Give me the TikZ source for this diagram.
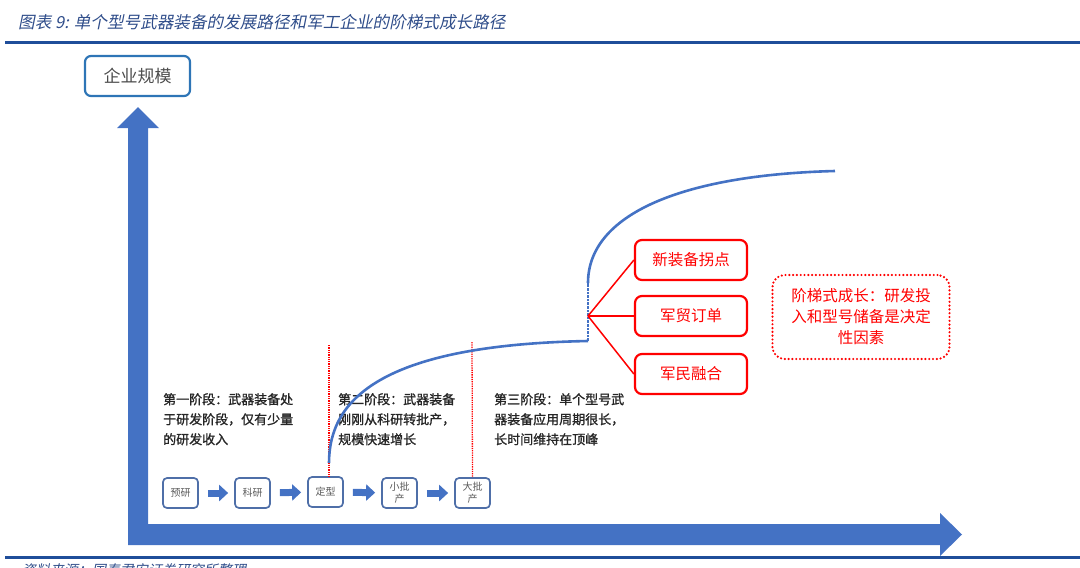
\documentclass[tikz,border=0pt]{standalone}
\usepackage{fontspec}
\setmainfont{Noto Sans CJK SC}
\newfontfamily\slantfont[FakeSlant=0.2]{Noto Sans CJK SC}
\newfontfamily\heavyfont[FakeBold=1.2]{Noto Sans CJK SC}
\usetikzlibrary{arrows.meta}

\definecolor{axisblue}{HTML}{4472C4}
\definecolor{rulenavy}{HTML}{1F4E9A}
\definecolor{titlenavy}{HTML}{2F4D8A}
\definecolor{stageframe}{HTML}{4F6FA8}
\definecolor{scaleframe}{HTML}{2E75B6}
\definecolor{keyred}{HTML}{FF0000}

\begin{document}
\begin{tikzpicture}[x=1pt, y=-1pt,
    stagebox/.style={draw=stageframe, line width=1.7pt, rounded corners=4pt,
        minimum width=35pt, minimum height=30pt, inner sep=1pt, align=center,
        text=black!65, font=\fontsize{10}{12}\selectfont},
    flowarrow/.style={draw=axisblue, line width=7pt,
        -{Triangle[length=9pt, width=16pt]}, shorten <=9pt, shorten >=6pt},
    keybox/.style={draw=keyred, line width=2.2pt, rounded corners=7pt,
        minimum width=112pt, minimum height=40pt, text=keyred,
        font=\fontsize{15.5}{18}\selectfont},
    stagetext/.style={anchor=north west, inner sep=0pt, align=left,
        text=black!85, font=\heavyfont\fontsize{13}{20}\selectfont},
    fanline/.style={draw=keyred, line width=1.5pt},
    stageline/.style={draw=keyred, line width=1.3pt, densely dotted},
    growth/.style={draw=axisblue, line width=2.6pt}]

    \useasboundingbox (0,0) rectangle (1080,568);

    % Title and rules
    \node (title) at (18,22) [anchor=west, inner sep=0pt, text=titlenavy,
        font=\slantfont\fontsize{16.6}{18}\selectfont]
        {图表 9: 单个型号武器装备的发展路径和军工企业的阶梯式成长路径};
    \draw[rulenavy, line width=3pt] (5,42.5) -- (1080,42.5);
    \draw[rulenavy, line width=3pt] (5,557.5) -- (1080,557.5);
    \node (source) at (22,563) [anchor=north west, inner sep=0pt, text=titlenavy,
        font=\slantfont\fontsize{14}{16}\selectfont] {资料来源：国泰君安证券研究所整理};

    % Draw the axes
    \fill[axisblue] (128,545) -- (128,128) -- (117,128) -- (138,107) -- (159,128)
        -- (148,128) -- (148,524) -- (940,524) -- (940,513) -- (962,534.5)
        -- (940,556) -- (940,545) -- cycle;
    \node (scale) at (137.5,76) [draw=scaleframe, line width=2.2pt, rounded corners=6pt,
        minimum width=105pt, minimum height=40pt, text=black!70,
        font=\fontsize{17}{18}\selectfont] {企业规模};

    % Stages of one weapon model
    \node[stagebox] (yuyan) at (180.5,493) {预研};
    \node[stagebox] (keyan) at (252.5,493) {科研};
    \node[stagebox] (dingxing) at (325.5,492) {定型};
    \node[stagebox] (xiaopi) at (399.5,493) {小批\\产};
    \node[stagebox] (dapi) at (472.5,493) {大批\\产};
    \draw[flowarrow] (yuyan) -- (keyan);
    \draw[flowarrow] (keyan) -- (dingxing);
    \draw[flowarrow] (dingxing) -- (xiaopi);
    \draw[flowarrow] (xiaopi) -- (dapi);

    % Stage borders
    \coordinate (border1) at (329,345);
    \coordinate (border2) at (472,342);
    \draw[stageline] (border1) -- (border1 |- dingxing.north);
    \draw[stageline] (border2) -- (dapi.north);

    % Stage descriptions
    \node[stagetext] (stage1) at (163,393)
        {第一阶段：武器装备处\\于研发阶段，仅有少量\\的研发收入};
    \node[stagetext] (stage2) at (338,393)
        {第二阶段：武器装备\\刚刚从科研转批产，\\规模快速增长};
    \node[stagetext] (stage3) at (494,393)
        {第三阶段：单个型号武\\器装备应用周期很长，\\长时间维持在顶峰};

    % Growth curves
    \coordinate (start1) at (329,463);
    \coordinate (end1) at (588,341);
    \coordinate (start2) at (588,283);
    \coordinate (end2) at (835,171);
    \draw[growth] (start1) .. controls (329,400) and (380,345) .. (end1);
    \draw[growth, densely dotted] (end1) -- (start2);
    \draw[growth] (start2) .. controls (588,215) and (680,175) .. (end2);

    % New growth drivers
    \coordinate (fan) at (588,316);
    \node[keybox] (newequip) at (691,260) {新装备拐点};
    \node[keybox] (trade) at (691,316) {军贸订单};
    \node[keybox] (civil) at (691,374) {军民融合};
    \draw[fanline] (fan) -- (newequip.west);
    \draw[fanline] (fan) -- (trade.west);
    \draw[fanline] (fan) -- (civil.west);

    % Note on stepwise growth
    \node (note) at (861,317) [draw=keyred, line width=2.4pt, line cap=round,
        dash pattern=on 0pt off 3.8pt, rounded corners=12pt,
        minimum width=177pt, minimum height=84pt, align=center, text=keyred,
        font=\fontsize{15.5}{21}\selectfont]
        {阶梯式成长：研发投\\入和型号储备是决定\\性因素};

\end{tikzpicture}
\end{document}
